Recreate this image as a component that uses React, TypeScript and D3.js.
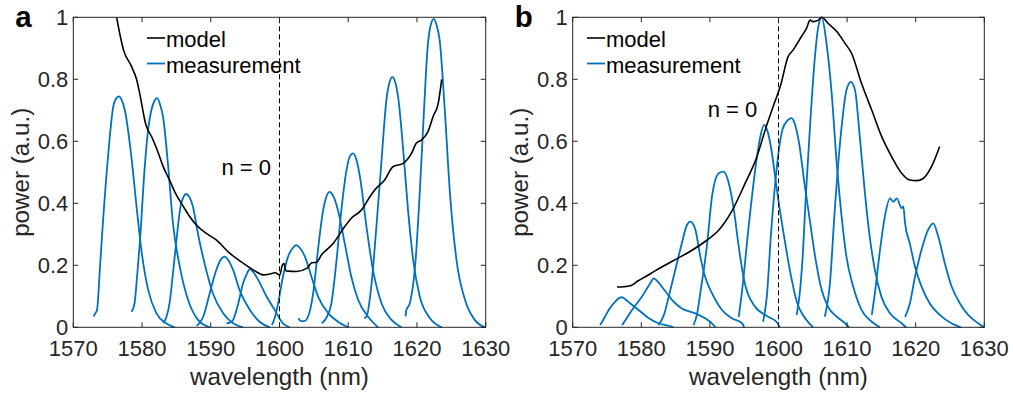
import React from 'react';
import * as d3 from 'd3';

type Pt = [number, number];

// Axis ticks
const wavelengthTicks = [1570, 1580, 1590, 1600, 1610, 1620, 1630];
const powerTicks = [0, 0.2, 0.4, 0.6, 0.8, 1];
const powerTickLabels = ['0', '0.2', '0.4', '0.6', '0.8', '1'];
const centerWavelength = 1600;
const seriesNames = ['model', 'measurement'];
const markerLabel = 'n = 0';
const panelLabels = ['a', 'b'];
const xTitle = 'wavelength (nm)';
const yTitle = 'power (a.u.)';

// Panel a: model envelope
const modelA: Pt[] = [
  [1576.3, 1.0], [1577.3, 0.895], [1578.5, 0.84], [1579.2, 0.8], [1579.7, 0.75], [1580.5, 0.658],
  [1581.5, 0.61], [1582.15, 0.575], [1583.05, 0.52], [1584.1, 0.47], [1584.8, 0.435], [1586.0, 0.39],
  [1587.0, 0.355], [1587.9, 0.33], [1589.35, 0.303], [1590.8, 0.282], [1592.75, 0.239], [1594.5, 0.21],
  [1596.4, 0.182], [1597.7, 0.169], [1598.6, 0.172], [1599.35, 0.176], [1600.05, 0.169], [1600.4, 0.2],
  [1600.65, 0.206], [1600.95, 0.182], [1602.5, 0.18], [1603.95, 0.19], [1604.7, 0.208], [1605.4, 0.21],
  [1606.1, 0.233], [1607.8, 0.27], [1609.5, 0.325], [1610.45, 0.352], [1611.9, 0.378], [1613.15, 0.421],
  [1613.85, 0.443], [1615.3, 0.475], [1616.5, 0.518], [1618.0, 0.529], [1619.2, 0.561], [1619.9, 0.594],
  [1620.65, 0.604], [1621.6, 0.631], [1622.35, 0.68], [1623.1, 0.723], [1623.6, 0.8],
];

// Panel a: measured spectra, one per mode
const measurementA: Pt[][] = [
  [[1572.95, 0.035], [1573.2, 0.045], [1573.45, 0.056], [1573.9, 0.2], [1574.3, 0.335], [1575.05, 0.55],
   [1575.8, 0.71], [1576.3, 0.74], [1576.65, 0.745], [1577.0, 0.735], [1577.5, 0.7], [1578.45, 0.55],
   [1579.2, 0.39], [1579.9, 0.25], [1580.9, 0.12], [1582.1, 0.045], [1583.5, 0.013], [1584.75, 0.0]],
  [[1578.45, 0.05], [1578.7, 0.06], [1578.93, 0.08], [1579.3, 0.17], [1579.67, 0.27], [1580.4, 0.52],
   [1580.9, 0.64], [1581.35, 0.7], [1581.8, 0.73], [1582.2, 0.739], [1582.6, 0.72], [1583.05, 0.68],
   [1583.8, 0.52], [1584.5, 0.335], [1585.5, 0.195], [1586.7, 0.088], [1588.15, 0.024], [1589.85, 0.0]],
  [[1583.05, 0.014], [1583.5, 0.03], [1584.0, 0.077], [1584.5, 0.174], [1585.0, 0.28], [1585.7, 0.4],
   [1586.45, 0.43], [1586.9, 0.42], [1587.4, 0.39], [1588.15, 0.3], [1589.1, 0.206], [1590.3, 0.11],
   [1591.8, 0.045], [1593.25, 0.013], [1594.7, 0.0]],
  [[1587.95, 0.005], [1588.4, 0.015], [1588.9, 0.034], [1589.85, 0.11], [1590.8, 0.185], [1591.5, 0.22],
   [1592.0, 0.228], [1592.6, 0.215], [1593.25, 0.185], [1594.2, 0.12], [1595.7, 0.056], [1597.1, 0.018],
   [1598.6, 0.0]],
  [[1592.3, 0.013], [1592.8, 0.015], [1593.25, 0.024], [1594.0, 0.077], [1594.7, 0.142], [1595.2, 0.17],
   [1595.7, 0.188], [1596.3, 0.175], [1596.9, 0.153], [1598.1, 0.1], [1599.3, 0.056], [1600.5, 0.013],
   [1601.5, 0.0]],
  [[1598.9, 0.007], [1599.3, 0.03], [1599.8, 0.077], [1600.5, 0.163], [1601.25, 0.228], [1601.9, 0.255],
   [1602.45, 0.265], [1603.0, 0.255], [1603.7, 0.228], [1604.65, 0.163], [1605.6, 0.1], [1607.1, 0.045],
   [1608.5, 0.018], [1610.0, 0.0]],
  [[1602.75, 0.029], [1603.1, 0.02], [1603.6, 0.02], [1604.15, 0.034], [1604.9, 0.11], [1605.6, 0.25],
   [1606.35, 0.378], [1606.8, 0.42], [1607.3, 0.437], [1607.9, 0.42], [1608.5, 0.378], [1609.5, 0.27],
   [1610.45, 0.163], [1611.45, 0.088], [1612.9, 0.034], [1614.35, 0.0]],
  [[1606.15, 0.013], [1606.8, 0.03], [1607.55, 0.077], [1608.3, 0.217], [1609.0, 0.378], [1609.75, 0.507],
   [1610.2, 0.55], [1610.7, 0.561], [1611.2, 0.54], [1611.7, 0.486], [1612.65, 0.325], [1613.6, 0.185],
   [1614.85, 0.077], [1616.3, 0.024], [1617.75, 0.0]],
  [[1612.3, 0.03], [1612.65, 0.034], [1613.4, 0.142], [1614.1, 0.325], [1614.85, 0.54], [1615.55, 0.733],
   [1616.0, 0.79], [1616.45, 0.808], [1616.85, 0.79], [1617.25, 0.744], [1618.0, 0.572], [1618.7, 0.378],
   [1619.45, 0.217], [1620.4, 0.1], [1621.9, 0.029], [1623.6, 0.0]],
  [[1618.35, 0.035], [1618.45, 0.055], [1618.95, 0.077], [1619.8, 0.217], [1620.4, 0.432], [1620.9, 0.647],
   [1621.6, 0.916], [1622.0, 0.975], [1622.45, 0.995], [1622.85, 0.975], [1623.3, 0.927], [1624.05, 0.7],
   [1624.8, 0.432], [1625.75, 0.217], [1627.0, 0.088], [1628.4, 0.024], [1629.9, 0.0]],
];

// Panel b: model envelope
const modelB: Pt[] = [
  [1576.45, 0.13], [1577.5, 0.131], [1578.4, 0.134], [1579.55, 0.15], [1580.6, 0.163], [1582.0, 0.182],
  [1583.45, 0.2], [1584.5, 0.213], [1586.9, 0.242], [1589.5, 0.28], [1591.3, 0.314], [1593.2, 0.375],
  [1595.15, 0.465], [1596.85, 0.55], [1598.05, 0.636], [1599.3, 0.717], [1600.3, 0.78], [1601.4, 0.873],
  [1602.15, 0.895], [1603.35, 0.938], [1604.1, 0.965], [1604.6, 0.991], [1605.05, 0.986], [1605.8, 0.991],
  [1606.3, 1.0], [1607.25, 0.98], [1608.5, 0.954], [1609.7, 0.916], [1610.65, 0.884], [1612.1, 0.787],
  [1613.6, 0.7], [1615.05, 0.615], [1616.5, 0.55], [1617.95, 0.497], [1619.15, 0.475], [1620.15, 0.473],
  [1621.1, 0.48], [1622.3, 0.518], [1623.5, 0.583],
];

// Panel b: measured spectra, one per mode
const measurementB: Pt[][] = [
  [[1574.0, 0.007], [1574.6, 0.03], [1575.25, 0.056], [1576.2, 0.083], [1576.8, 0.095], [1577.2, 0.097],
   [1577.7, 0.09], [1578.4, 0.077], [1579.6, 0.056], [1581.1, 0.029], [1582.5, 0.013], [1584.0, 0.005],
   [1584.7, 0.0]],
  [[1577.2, 0.007], [1577.9, 0.03], [1578.65, 0.056], [1580.1, 0.099], [1581.3, 0.142], [1581.8, 0.158],
   [1582.3, 0.15], [1583.0, 0.131], [1584.5, 0.088], [1585.9, 0.061], [1587.9, 0.045], [1589.3, 0.029],
   [1590.3, 0.013], [1590.8, 0.0]],
  [[1582.5, 0.007], [1583.3, 0.04], [1584.0, 0.099], [1584.95, 0.185], [1585.9, 0.27], [1586.65, 0.33],
   [1587.15, 0.341], [1587.5, 0.335], [1587.9, 0.314], [1588.6, 0.228], [1589.3, 0.163], [1590.3, 0.11],
   [1591.75, 0.056], [1593.2, 0.029], [1594.7, 0.013], [1595.0, 0.0]],
  [[1587.6, 0.007], [1588.1, 0.04], [1588.6, 0.11], [1589.6, 0.27], [1590.3, 0.421], [1591.3, 0.497],
   [1592.0, 0.502], [1592.75, 0.465], [1593.5, 0.378], [1594.2, 0.26], [1595.0, 0.15], [1596.45, 0.07],
   [1598.5, 0.034], [1599.7, 0.018], [1600.2, 0.0]],
  [[1594.2, 0.034], [1594.65, 0.11], [1595.65, 0.325], [1596.6, 0.507], [1597.35, 0.615], [1597.9, 0.653],
   [1598.35, 0.636], [1598.97, 0.572], [1599.7, 0.454], [1600.2, 0.378], [1600.9, 0.282], [1601.65, 0.185],
   [1602.6, 0.088], [1604.05, 0.024], [1605.05, 0.0]],
  [[1597.75, 0.018], [1598.3, 0.1], [1598.9, 0.3], [1599.5, 0.46], [1600.1, 0.58], [1600.6, 0.64],
   [1601.4, 0.669], [1601.9, 0.675], [1602.4, 0.655], [1603.0, 0.594], [1603.75, 0.47], [1604.6, 0.34],
   [1605.4, 0.22], [1606.3, 0.12], [1607.25, 0.065], [1608.45, 0.035], [1609.7, 0.013], [1610.3, 0.0]],
  [[1602.65, 0.04], [1603.1, 0.11], [1603.5, 0.22], [1604.0, 0.43], [1604.6, 0.65], [1605.3, 0.87],
   [1605.8, 0.97], [1606.3, 1.0], [1607.0, 0.916], [1607.75, 0.755], [1608.45, 0.54], [1609.2, 0.357],
   [1609.9, 0.228], [1610.9, 0.131], [1612.1, 0.056], [1613.6, 0.018], [1614.8, 0.0]],
  [[1606.75, 0.034], [1607.5, 0.142], [1608.2, 0.378], [1609.2, 0.647], [1609.9, 0.765], [1610.55, 0.792],
   [1611.15, 0.765], [1611.85, 0.615], [1612.6, 0.432], [1613.3, 0.292], [1614.05, 0.185], [1615.0, 0.099],
   [1616.25, 0.045], [1617.95, 0.013], [1618.6, 0.0]],
  [[1613.6, 0.04], [1614.05, 0.11], [1614.8, 0.25], [1615.5, 0.357], [1616.25, 0.416], [1616.75, 0.405],
   [1617.25, 0.416], [1617.95, 0.384], [1618.2, 0.39], [1618.45, 0.335], [1619.15, 0.27], [1619.9, 0.195],
   [1620.85, 0.131], [1622.05, 0.077], [1623.5, 0.04], [1625.2, 0.013], [1626.6, 0.0]],
  [[1618.45, 0.034], [1619.15, 0.077], [1619.9, 0.163], [1620.85, 0.25], [1621.8, 0.314], [1622.55, 0.335],
   [1623.3, 0.292], [1624.25, 0.206], [1625.25, 0.131], [1626.45, 0.077], [1627.65, 0.04], [1629.1, 0.013],
   [1630.0, 0.0]],
];

const W = 1013;
const H = 396;
const TOP = 17.3;
const BOTTOM = 327.3;
const AXIS = '#262626';
const BLUE = '#0072BD';
const FONT = "'Liberation Sans', Arial, Helvetica, sans-serif";

interface PanelProps {
  left: number;
  right: number;
  label: string;
  model: Pt[];
  measurement: Pt[][];
  legendX: number;
  markerEnd: number;
  markerBaseline: number;
}

function Panel({ left, right, label, model, measurement, legendX, markerEnd, markerBaseline }: PanelProps) {
  const x = d3.scaleLinear().domain([1570, 1630]).range([left, right]);
  const y = d3.scaleLinear().domain([0, 1]).range([BOTTOM, TOP]);
  const line = d3
    .line<Pt>()
    .x((d) => x(d[0]))
    .y((d) => y(d[1]))
    .curve(d3.curveMonotoneX);
  const tick = 5;
  const cx = x(centerWavelength);

  return (
    <g>
      {/* measured spectra */}
      {measurement.map((s, i) => (
        <path key={i} d={line(s) ?? ''} fill="none" stroke={BLUE} strokeWidth={1.8} strokeLinejoin="round" />
      ))}
      {/* model envelope */}
      <path d={line(model) ?? ''} fill="none" stroke="#000" strokeWidth={1.6} strokeLinejoin="round" />
      {/* zero-order marker */}
      <line x1={cx} x2={cx} y1={BOTTOM} y2={TOP} stroke="#000" strokeWidth={1} strokeDasharray="5,3" />
      <text x={markerEnd} y={markerBaseline} textAnchor="end" fontSize={22} fill="#000">{markerLabel}</text>

      {/* frame */}
      <rect x={left} y={TOP} width={right - left} height={BOTTOM - TOP} fill="none" stroke={AXIS} strokeWidth={1} />
      {wavelengthTicks.map((t) => (
        <g key={t}>
          <line x1={x(t)} x2={x(t)} y1={BOTTOM} y2={BOTTOM - tick} stroke={AXIS} />
          <line x1={x(t)} x2={x(t)} y1={TOP} y2={TOP + tick} stroke={AXIS} />
          <text x={x(t)} y={355.5} textAnchor="middle" fontSize={22} fill={AXIS}>{t}</text>
        </g>
      ))}
      {powerTicks.map((t, i) => (
        <g key={t}>
          <line x1={left} x2={left + tick} y1={y(t)} y2={y(t)} stroke={AXIS} />
          <line x1={right} x2={right - tick} y1={y(t)} y2={y(t)} stroke={AXIS} />
          <text x={left - 5} y={y(t)} dy="0.35em" textAnchor="end" fontSize={22} fill={AXIS}>{powerTickLabels[i]}</text>
        </g>
      ))}
      <text x={(left + right) / 2} y={385} textAnchor="middle" fontSize={24.2} fill={AXIS}>{xTitle}</text>
      <text
        transform={`translate(${left - 44.3},${(TOP + BOTTOM) / 2}) rotate(-90)`}
        textAnchor="middle"
        fontSize={24.2}
        fill={AXIS}
      >
        {yTitle}
      </text>
      <text x={left - 58} y={26.8} fontSize={29.5} fontWeight="bold" fill="#000">{label}</text>

      {/* legend */}
      <line x1={legendX} x2={legendX + 18} y1={38} y2={38} stroke="#000" strokeWidth={1.6} />
      <text x={legendX + 19} y={46.5} fontSize={22} fill="#000">{seriesNames[0]}</text>
      <line x1={legendX} x2={legendX + 18} y1={63.5} y2={63.5} stroke={BLUE} strokeWidth={1.8} />
      <text x={legendX + 19} y={73} fontSize={22} fill="#000">{seriesNames[1]}</text>
    </g>
  );
}

export default function App() {
  return (
    <svg
      width={W}
      height={H}
      viewBox={`0 0 ${W} ${H}`}
      style={{ position: 'absolute', left: 0, top: 0, background: '#fff' }}
      fontFamily={FONT}
    >
      <rect width={W} height={H} fill="#fff" />
      <Panel
        left={73.3}
        right={485.7}
        label={panelLabels[0]}
        model={modelA}
        measurement={measurementA}
        legendX={147}
        markerEnd={271}
        markerBaseline={175}
      />
      <Panel
        left={572.7}
        right={984.3}
        label={panelLabels[1]}
        model={modelB}
        measurement={measurementB}
        legendX={587}
        markerEnd={757.3}
        markerBaseline={116.7}
      />
    </svg>
  );
}
